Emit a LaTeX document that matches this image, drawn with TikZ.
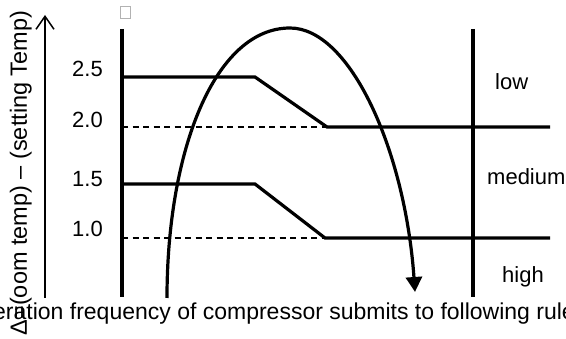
\documentclass[tikz,border=0pt]{standalone}
\usepackage{fontspec}
\setmainfont{Liberation Sans}
\usetikzlibrary{arrows.meta}

\begin{document}
\begin{tikzpicture}[x=1pt,y=-1pt,font=\fontsize{22}{26}\selectfont,
  bar/.style={line width=3.2pt},
  limit/.style={line width=1.4pt,dash pattern=on 6pt off 4.5pt},
  level/.style={inner sep=0pt,anchor=base west}]
  \useasboundingbox (0,0) rectangle (566,339);
  % axis and its label
  \draw[line width=1.5pt,-{Straight Barb[length=13pt,width=18pt,line width=1.5pt]}] (45,298) -- (45,15);
  \node[rotate=90,inner sep=0pt,anchor=base,font=\fontsize{23.5}{26}\selectfont] (axislabel) at (27,173) {Δ=(oom temp) – (setting Temp)};
  \draw[gray!60,line width=0.7pt] (120,6) rectangle (130,18);
  % frame
  \draw[line width=3.6pt] (122,29) -- (122,297);
  \draw[line width=3.6pt] (473,29) -- (473,297);
  % levels
  \node[level] (v25) at (72,77) {2.5};
  \node[level] (v20) at (72,128) {2.0};
  \node[level] (v15) at (72,187) {1.5};
  \node[level] (v10) at (72,237) {1.0};
  \draw[limit] (122,127) -- (327,127);
  \draw[limit] (122,238) -- (325,238);
  \draw[bar] (122,77) -- (255,77) -- (327,127) -- (550,127);
  \draw[bar] (122,184) -- (255,184) -- (325,238) -- (550,238);
  % zones
  \node[level] (low) at (495,90) {low};
  \node[level] (medium) at (487,185) {medium};
  \node[level] (high) at (502,283) {high};
  % trend
  \draw[line width=3.2pt,-{Triangle[length=15pt,width=16pt]}]
    (167,298) .. controls (167,150) and (215,28) .. (290,28)
    .. controls (350,28) and (405,150) .. (415,292);
  \node[level,font=\fontsize{23}{26}\selectfont] (rule) at (-7,320) {eration frequency of compressor submits to following rule};
\end{tikzpicture}
\end{document}
